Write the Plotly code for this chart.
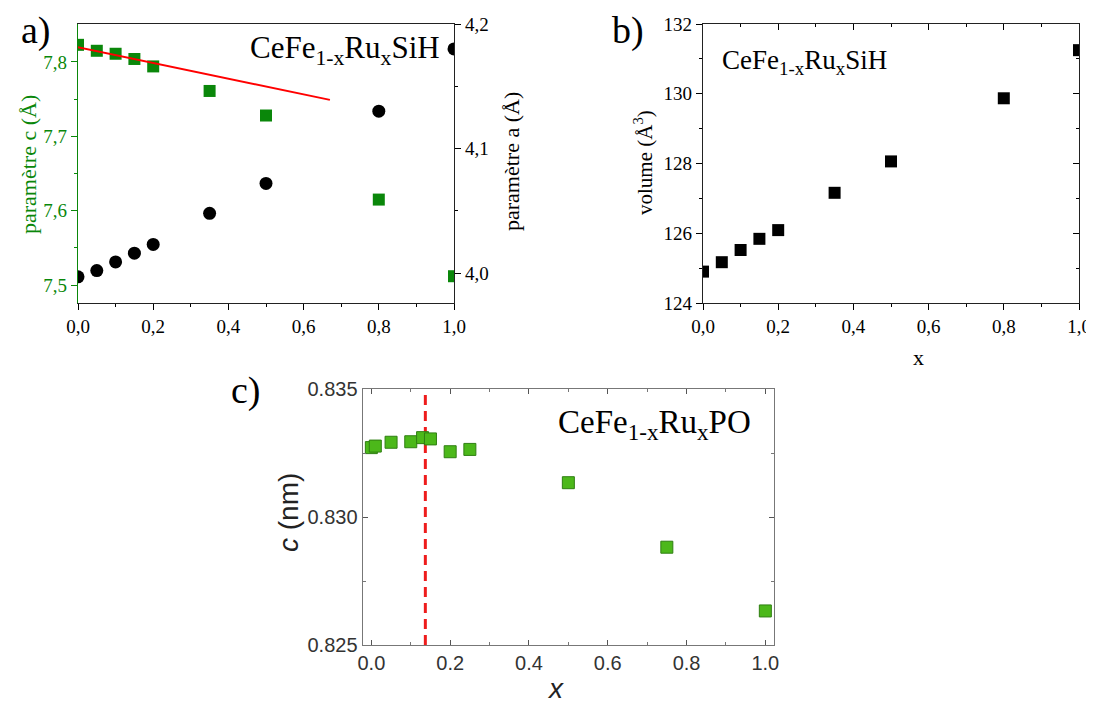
import plotly.graph_objects as go

# page body keeps its default 8px margin, so the figure is drawn 8px in from the corner
OFF = 8
W, H = 1094 - OFF, 707 - OFF

# ---------------- data ----------------
# panel a : CeFe1-xRuxSiH lattice parameters
x_a = [0.0, 0.05, 0.10, 0.15, 0.20, 0.35, 0.50, 0.80, 1.00]
param_c = [7.823, 7.815, 7.811, 7.804, 7.794, 7.761, 7.728, 7.615, 7.512]
param_a = [3.997, 4.002, 4.009, 4.016, 4.023, 4.048, 4.072, 4.130, 4.180]
fit_x = [-0.02, 0.67]
fit_c = [7.822, 7.749]

# panel b : cell volume
x_b = [0.0, 0.05, 0.10, 0.15, 0.20, 0.35, 0.50, 0.80, 1.00]
volume = [124.90, 125.17, 125.52, 125.84, 126.09, 127.16, 128.06, 129.87, 131.25]

# panel c : CeFe1-xRuxPO c parameter
x_c = [0.0, 0.01, 0.05, 0.10, 0.13, 0.15, 0.20, 0.25, 0.50, 0.75, 1.00]
c_nm = [0.83271, 0.83277, 0.83292, 0.83294, 0.83310, 0.83305, 0.83255, 0.83264,
        0.83134, 0.82882, 0.82633]
x_crit = [0.137, 0.137]
y_crit = [0.825, 0.835]

# tick labels (comma decimals for a and b)
xticks_ab = [0.0, 0.2, 0.4, 0.6, 0.8, 1.0]
xticktext_ab = ["0,0", "0,2", "0,4", "0,6", "0,8", "1,0"]
xminor_ab = [0.1, 0.3, 0.5, 0.7, 0.9]
yticks_c = [7.5, 7.6, 7.7, 7.8]
yticktext_c = ["7,5", "7,6", "7,7", "7,8"]
yminor_c = [7.55, 7.65, 7.75]
yticks_a = [4.0, 4.1, 4.2]
yticktext_a = ["4,0", "4,1", "4,2"]
yminor_a = [4.05, 4.15]
yticks_v = [124, 126, 128, 130, 132]
yminor_v = [125, 127, 129, 131]

SERIF = "Liberation Serif"
SANS = "Liberation Sans"
GREEN = "#0a870a"


def fx(px):
    return (px - OFF) / W


def fy(py):
    return 1 - (py - OFF) / H


fig = go.Figure()

# ---- panel a
fig.add_trace(go.Scatter(x=x_a, y=param_c, mode="markers", xaxis="x", yaxis="y",
                         marker=dict(symbol="square", size=12, color=GREEN), showlegend=False))
fig.add_trace(go.Scatter(x=fit_x, y=fit_c, mode="lines", xaxis="x", yaxis="y",
                         line=dict(color="#ff0000", width=2), cliponaxis=False, showlegend=False))
fig.add_trace(go.Scatter(x=x_a, y=param_a, mode="markers", xaxis="x", yaxis="y2",
                         marker=dict(symbol="circle", size=13, color="black"), showlegend=False))
# ---- panel b
fig.add_trace(go.Scatter(x=x_b, y=volume, mode="markers", xaxis="x2", yaxis="y3",
                         marker=dict(symbol="square", size=12, color="black"), showlegend=False))
fig.add_trace(go.Scatter(x=[], y=[], xaxis="x3", yaxis="y3", showlegend=False))
fig.add_trace(go.Scatter(x=[], y=[], xaxis="x2", yaxis="y4", showlegend=False))
# ---- panel c
fig.add_trace(go.Scatter(x=x_crit, y=y_crit, mode="lines", xaxis="x4", yaxis="y5",
                         line=dict(color="#ee1c1c", width=3, dash="10px,6px"), showlegend=False))
fig.add_trace(go.Scatter(x=x_c, y=c_nm, mode="markers", xaxis="x4", yaxis="y5",
                         marker=dict(symbol="square", size=12, color="#4cb81a",
                                     line=dict(color="#2f7f12", width=1)), showlegend=False))

ya_dom = [fy(303), fy(24)]
tickfont_serif = dict(family=SERIF, size=19, color="black")

common_x_ab = dict(range=[0, 1], tickmode="array", tickvals=xticks_ab, ticktext=xticktext_ab,
                   ticks="outside", ticklen=6, tickcolor="black", showgrid=False, zeroline=False,
                   showline=True, linecolor="#222", linewidth=1.3, mirror=True,
                   tickfont=tickfont_serif, automargin=False, ticklabeloverflow="allow",
                   minor=dict(tickvals=xminor_ab, ticks="outside", ticklen=3, tickcolor="black"))

fig.update_layout(
    template="none",
    width=W, height=H, margin=dict(l=0, r=0, t=0, b=0, autoexpand=False),
    paper_bgcolor="white", plot_bgcolor="white",
    xaxis=dict(domain=[fx(78), fx(454)], anchor="y", **common_x_ab),
    yaxis=dict(domain=ya_dom, anchor="x", range=[7.476, 7.851], tickmode="array",
               tickvals=yticks_c, ticktext=yticktext_c, ticks="outside", ticklen=6,
               tickcolor=GREEN, showgrid=False, zeroline=False, showline=True, automargin=False,
               linecolor=GREEN, linewidth=1.3, tickfont=dict(family=SERIF, size=19, color=GREEN),
               minor=dict(tickvals=yminor_c, ticks="outside", ticklen=3, tickcolor=GREEN)),
    yaxis2=dict(overlaying="y", side="right", anchor="x", range=[3.976, 4.2], tickmode="array",
                tickvals=yticks_a, ticktext=yticktext_a, ticks="outside", ticklen=6,
                tickcolor="black", showgrid=False, zeroline=False, showline=True, automargin=False,
                linecolor="#222", linewidth=1.3, tickfont=tickfont_serif,
                minor=dict(tickvals=yminor_a, ticks="outside", ticklen=3, tickcolor="black")),
    xaxis2=dict(domain=[fx(703), fx(1079)], anchor="y3", **common_x_ab),
    yaxis3=dict(domain=ya_dom, anchor="x2", range=[124, 132], tickmode="array",
                tickvals=yticks_v, ticks="outside", ticklen=6, tickcolor="black", automargin=False,
                showgrid=False, zeroline=False, showline=True, linecolor="#222", linewidth=1.3,
                mirror=True, tickfont=tickfont_serif,
                minor=dict(tickvals=yminor_v, ticks="outside", ticklen=3, tickcolor="black")),
    xaxis3=dict(overlaying="x2", side="top", anchor="y3", range=[0, 1], tickmode="array",
                tickvals=xticks_ab, ticks="inside", ticklen=6, tickcolor="black", automargin=False,
                showticklabels=False, showgrid=False, zeroline=False, showline=False,
                minor=dict(tickvals=xminor_ab, ticks="inside", ticklen=3, tickcolor="black")),
    yaxis4=dict(overlaying="y3", side="right", anchor="x2", range=[124, 132], tickmode="array",
                tickvals=yticks_v, ticks="inside", ticklen=6, tickcolor="black", automargin=False,
                showticklabels=False, showgrid=False, zeroline=False, showline=False,
                minor=dict(tickvals=yminor_v, ticks="inside", ticklen=3, tickcolor="black")),
    xaxis4=dict(domain=[fx(362.7), fx(774)], anchor="y5", range=[-0.022, 1.022], dtick=0.2,
                tick0=0, tickformat=".1f", ticks="inside", ticklen=5, tickcolor="#555",
                mirror="allticks", showline=True, linecolor="#777", linewidth=1.3,
                showgrid=False, zeroline=False, automargin=False,
                tickfont=dict(family=SANS, size=20, color="#333"),
                minor=dict(dtick=0.1, ticks="inside", ticklen=3, tickcolor="#777")),
    yaxis5=dict(domain=[fy(645), fy(389)], anchor="x4", range=[0.825, 0.835],
                dtick=0.005, tick0=0.825, tickformat=".3f", ticks="inside", ticklen=5,
                tickcolor="#555", mirror="allticks", showline=True, linecolor="#777",
                linewidth=1.3, showgrid=False, zeroline=False, automargin=False,
                tickfont=dict(family=SANS, size=20, color="#333"),
                minor=dict(dtick=0.0025, ticks="inside", ticklen=3, tickcolor="#777")),
)


def ann(text, px, py, size, family=SERIF, color="black", angle=0, xanchor="center"):
    fig.add_annotation(text=text, x=fx(px), y=fy(py), xref="paper", yref="paper",
                       showarrow=False, textangle=angle, xanchor=xanchor, yanchor="middle",
                       font=dict(family=family, size=size, color=color))


ann("a)", 36, 30, 38)
ann("b)", 628, 30, 38)
ann("c)", 246, 390, 38)
ann("CeFe<sub>1-x</sub>Ru<sub>x</sub>SiH", 248, 50, 31, xanchor="left")
ann("CeFe<sub>1-x</sub>Ru<sub>x</sub>SiH", 720, 62, 27, xanchor="left")
ann("CeFe<sub>1-x</sub>Ru<sub>x</sub>PO", 556, 425, 33, xanchor="left")
ann("paramètre c (Å)", 28, 165, 22, color=GREEN, angle=-90)
ann("paramètre a (Å)", 512, 162, 22, angle=-90)
ann("volume (Å<sup>3</sup>)", 643, 163, 21, angle=-90)
ann("x", 918, 357, 22)
ann("<i>c</i> (nm)", 288, 513, 28, family=SANS, color="#222", angle=-90)
ann("<i>x</i>", 555, 688, 28, family=SANS, color="#222")

fig.write_html("out.html")
